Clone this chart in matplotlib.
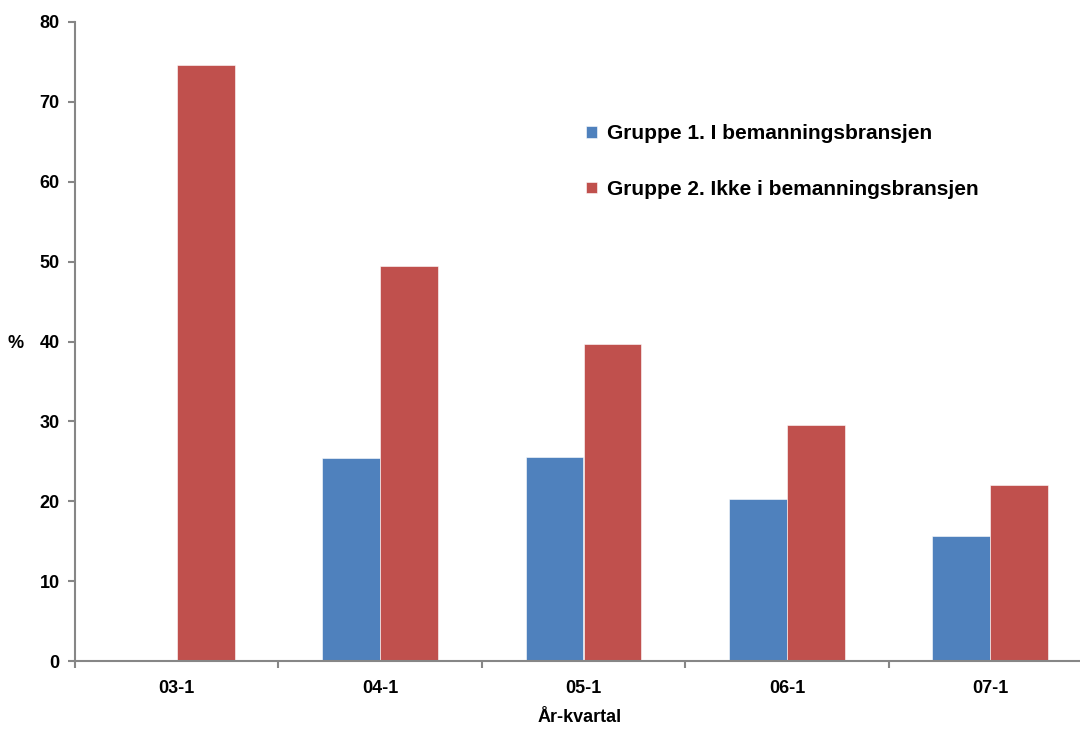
import numpy as np
import matplotlib
matplotlib.use("Agg")
from matplotlib import pyplot as plt

plt.rcParams['font.family'] = ['Liberation Sans', 'DejaVu Sans']
plt.rcParams['font.weight'] = 'bold'

categories = ['03-1', '04-1', '05-1', '06-1', '07-1']
gruppe1 = [np.nan, 25.4, 25.5, 20.3, 15.6]
gruppe2 = [74.6, 49.5, 39.7, 29.5, 22.0]
labels = ['Gruppe 1. I bemanningsbransjen', 'Gruppe 2. Ikke i bemanningsbransjen']

fig = plt.figure(figsize=(10.8, 7.29), dpi=100)
ax = fig.add_axes([75 / 1080, 1 - 661 / 729, 1017 / 1080, 639 / 729])

x = np.arange(len(categories))
w = 0.285
ax.bar(x - w / 2, gruppe1, w, color='#4F81BD', edgecolor='white', linewidth=0.4, label=labels[0])
ax.bar(x + w / 2, gruppe2, w, color='#C0504D', edgecolor='white', linewidth=0.4, label=labels[1])

ax.set_xlim(-0.5, len(categories) - 0.5)
ax.set_ylim(0, 80)
ax.set_yticks(range(0, 81, 10))
ax.set_xticks(x)
ax.set_xticklabels(categories, fontsize=13, fontweight='bold')
ax.set_xticks(np.arange(-0.5, len(categories), 1), minor=True)
ax.tick_params(axis='x', which='major', length=0, pad=14)
ax.tick_params(axis='x', which='minor', length=5, color='#868686', width=1.5, direction='out')
ax.tick_params(axis='y', length=5, color='#868686', width=1.5, labelsize=13, pad=6)
for t in ax.get_yticklabels():
    t.set_fontweight('bold')

for s in ['top', 'right']:
    ax.spines[s].set_visible(False)
for s in ['left', 'bottom']:
    ax.spines[s].set_color('#868686')
    ax.spines[s].set_linewidth(1.5)

fig.text(16 / 1080, 1 - 343 / 729, '%', fontsize=13, fontweight='bold', ha='center', va='center')
fig.text(580 / 1080, 1 - 718 / 729, 'År-kvartal', fontsize=13, fontweight='bold', ha='center', va='center')

ax.legend(loc='upper left', bbox_to_anchor=(576 / 1080, 1 - 114 / 729), bbox_transform=fig.transFigure,
          frameon=False, handlelength=0.5, handleheight=0.5, handletextpad=0.5,
          labelspacing=1.75, borderpad=0, prop={'weight': 'bold', 'size': 15})

fig.savefig('out.png', dpi=100, facecolor='white')
